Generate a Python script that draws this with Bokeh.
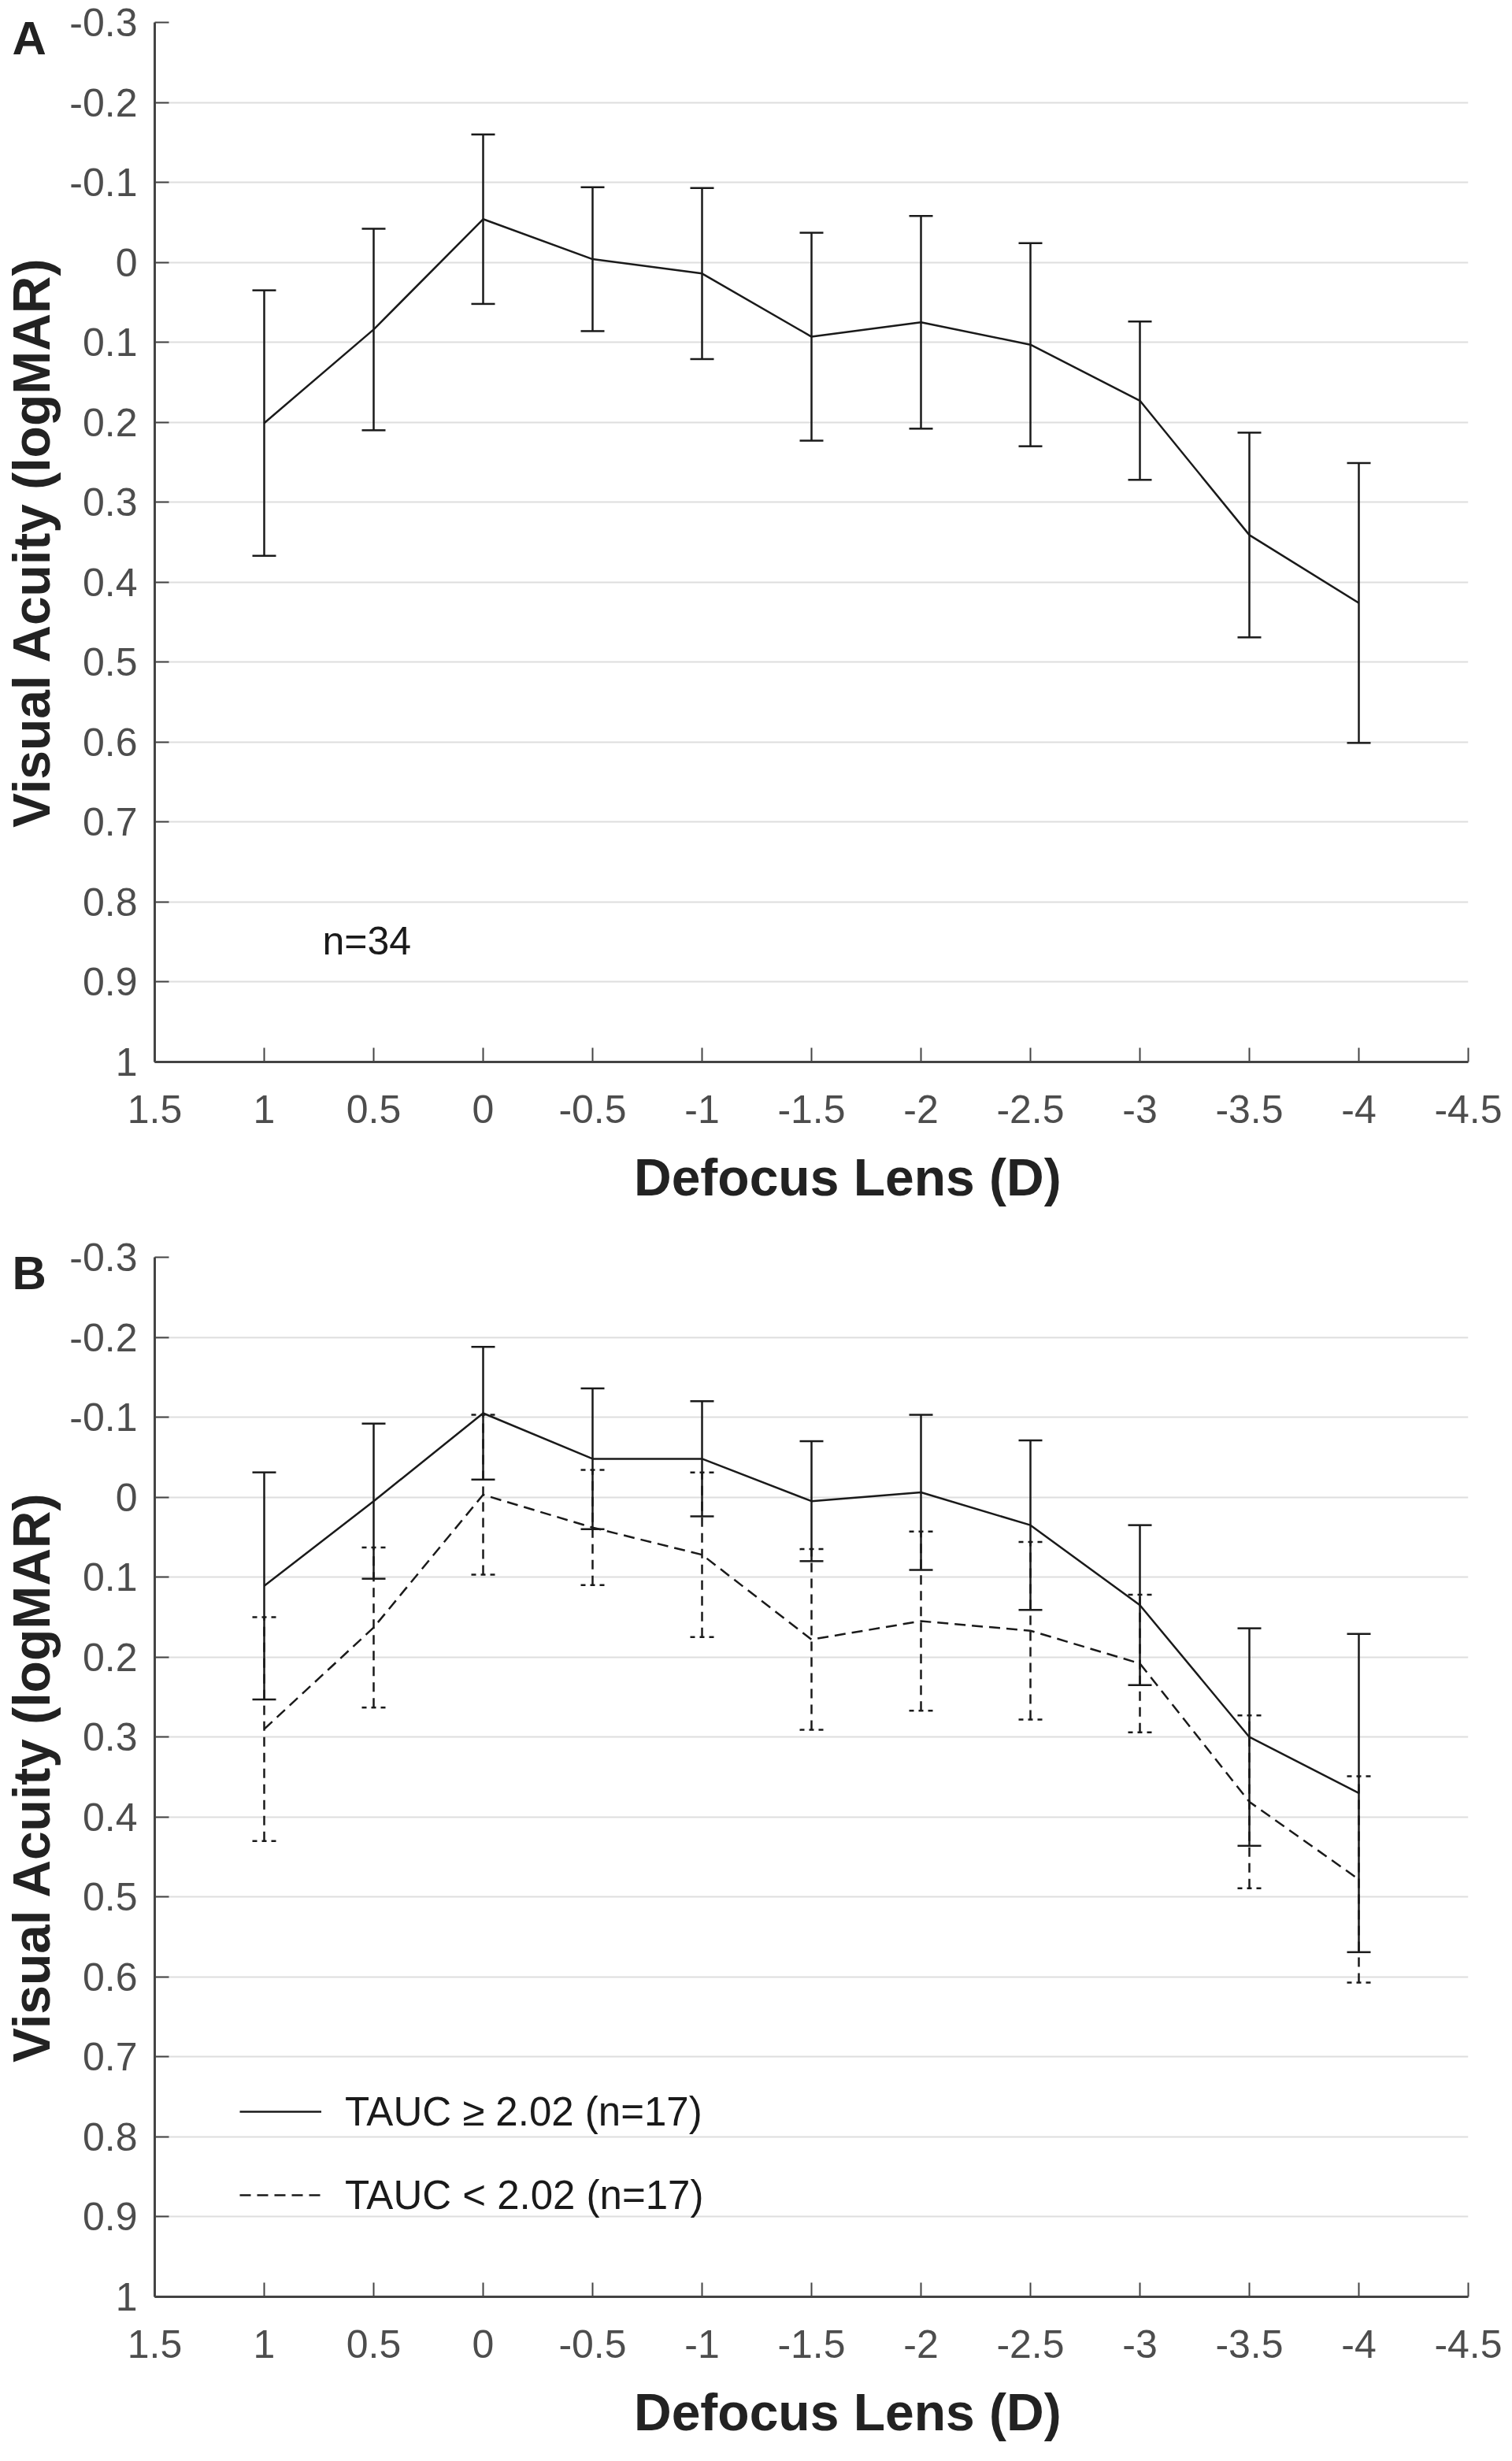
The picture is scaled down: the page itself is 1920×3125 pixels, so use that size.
from bokeh.plotting import figure
from bokeh.layouts import column
from bokeh.models import (ColumnDataSource, Range1d, FixedTicker, Whisker, TeeHead,
                          Label, Title, Legend)
from bokeh.embed import file_html
from bokeh.resources import INLINE

# defocus lens power (D) for every measurement
defocus = [1, 0.5, 0, -0.5, -1, -1.5, -2, -2.5, -3, -3.5, -4]

# panel A: all eyes (n=34), mean and SD of logMAR
all_mean = [0.201, 0.084, -0.054, -0.004, 0.014, 0.093, 0.075, 0.103, 0.173, 0.341, 0.426]
all_sd = [0.166, 0.126, 0.106, 0.090, 0.107, 0.130, 0.133, 0.127, 0.099, 0.128, 0.175]

# panel B: split by TAUC
high_mean = [0.111, 0.005, -0.105, -0.048, -0.048, 0.005, -0.006, 0.035, 0.135, 0.300, 0.370]
high_sd = [0.142, 0.097, 0.083, 0.088, 0.072, 0.075, 0.097, 0.106, 0.100, 0.136, 0.199]
low_mean = [0.290, 0.163, -0.003, 0.038, 0.072, 0.178, 0.155, 0.167, 0.208, 0.381, 0.478]
low_sd = [0.140, 0.100, 0.100, 0.072, 0.103, 0.113, 0.112, 0.111, 0.086, 0.108, 0.129]

high_label = "TAUC \u2265 2.02 (n=17)"
low_label = "TAUC < 2.02 (n=17)"
n_label = "n=34"

x_ticks = [1.5, 1, 0.5, 0, -0.5, -1, -1.5, -2, -2.5, -3, -3.5, -4, -4.5]
x_tick_labels = ["1.5", "1", "0.5", "0", "-0.5", "-1", "-1.5", "-2", "-2.5", "-3", "-3.5", "-4", "-4.5"]
y_ticks = [-0.3, -0.2, -0.1, 0, 0.1, 0.2, 0.3, 0.4, 0.5, 0.6, 0.7, 0.8, 0.9, 1]
y_tick_labels = ["-0.3", "-0.2", "-0.1", "0", "0.1", "0.2", "0.3", "0.4", "0.5",
                 "0.6", "0.7", "0.8", "0.9", "1"]

INK = "#1a1a1a"
AXIS = "#444444"
FONT = "Liberation Sans"
# the x label sits a little right of the frame centre in the original
X_LABEL = "\u00a0" * 5 + "Defocus Lens (D)"


def make_panel(letter, bottom_border):
    p = figure(frame_width=1668, frame_height=1320,
               x_range=Range1d(1.5, -4.5), y_range=Range1d(1.0, -0.3),
               output_backend="svg", toolbar_location=None, tools="",
               min_border_left=190, min_border_right=44, min_border_top=28,
               min_border_bottom=bottom_border)
    p.outline_line_color = None
    p.xgrid.visible = False
    p.ygrid.grid_line_color = "#dedede"
    p.ygrid.grid_line_width = 2

    for ax in (p.xaxis[0], p.yaxis[0]):
        ax.axis_line_color = AXIS
        ax.axis_line_width = 3
        ax.major_tick_line_color = AXIS
        ax.major_tick_line_width = 2
        ax.major_tick_in = 18
        ax.major_tick_out = 0
        ax.minor_tick_line_color = None
        ax.major_label_text_font = FONT
        ax.major_label_text_font_size = "50px"
        ax.major_label_text_color = "#4d4d4d"
        ax.axis_label_text_font = FONT
        ax.axis_label_text_font_style = "bold"
        ax.axis_label_text_font_size = "66px"
        ax.axis_label_text_color = "#222222"

    p.xaxis.ticker = FixedTicker(ticks=x_ticks)
    p.xaxis.major_label_overrides = dict(zip(x_ticks, x_tick_labels))
    p.xaxis.major_label_standoff = 42
    p.xaxis.axis_label = X_LABEL
    p.xaxis.axis_label_standoff = 29

    p.yaxis.ticker = FixedTicker(ticks=y_ticks)
    p.yaxis.major_label_overrides = dict(zip(y_ticks, y_tick_labels))
    p.yaxis.major_label_standoff = 22
    p.yaxis.axis_label = "Visual Acuity (logMAR)"
    p.yaxis.axis_label_standoff = 8

    # panel letter: a title pulled down beside the top of the frame
    p.add_layout(Title(text=letter, align="left", offset=-181, standoff=-107,
                       text_font=FONT, text_font_size="60px", text_font_style="bold",
                       text_color="#222222"), "above")
    return p


def add_series(p, mean, sd, dash, bar_dash, cap_dash):
    src = ColumnDataSource(dict(
        x=defocus, y=mean,
        upper=[m - s for m, s in zip(mean, sd)],
        lower=[m + s for m, s in zip(mean, sd)],
    ))
    head = dict(size=30, line_width=2.5, line_color=INK, line_dash=cap_dash)
    p.add_layout(Whisker(base="x", upper="upper", lower="lower", source=src,
                         line_color=INK, line_width=2.5, line_dash=bar_dash,
                         upper_head=TeeHead(**head), lower_head=TeeHead(**head),
                         level="glyph"))
    return p.line("x", "y", source=src, line_color=INK, line_width=2.5, line_dash=dash)


# panel A
pa = make_panel("A", 220)
add_series(pa, all_mean, all_sd, "solid", "solid", "solid")
pa.add_layout(Label(x=0.734, y=0.849, text=n_label, text_font=FONT,
                    text_font_size="50px", text_color=INK,
                    text_align="left", text_baseline="middle"))

# panel B
pb = make_panel("B", 150)
r_high = add_series(pb, high_mean, high_sd, "solid", "solid", "solid")
r_low = add_series(pb, low_mean, low_sd, "14 8", "12 8", "6 6")

legend = Legend(items=[(high_label, [r_high]), (low_label, [r_low])],
                location=(108, 99), orientation="vertical",
                glyph_width=104, glyph_height=60, label_height=60,
                label_standoff=30, spacing=46, padding=0, margin=0,
                border_line_color=None, background_fill_alpha=0,
                label_text_font=FONT, label_text_font_size="51px",
                label_text_color=INK)
pb.add_layout(legend)

layout = column(pa, pb, spacing=0)
open("out.html", "w").write(file_html(layout, INLINE))
